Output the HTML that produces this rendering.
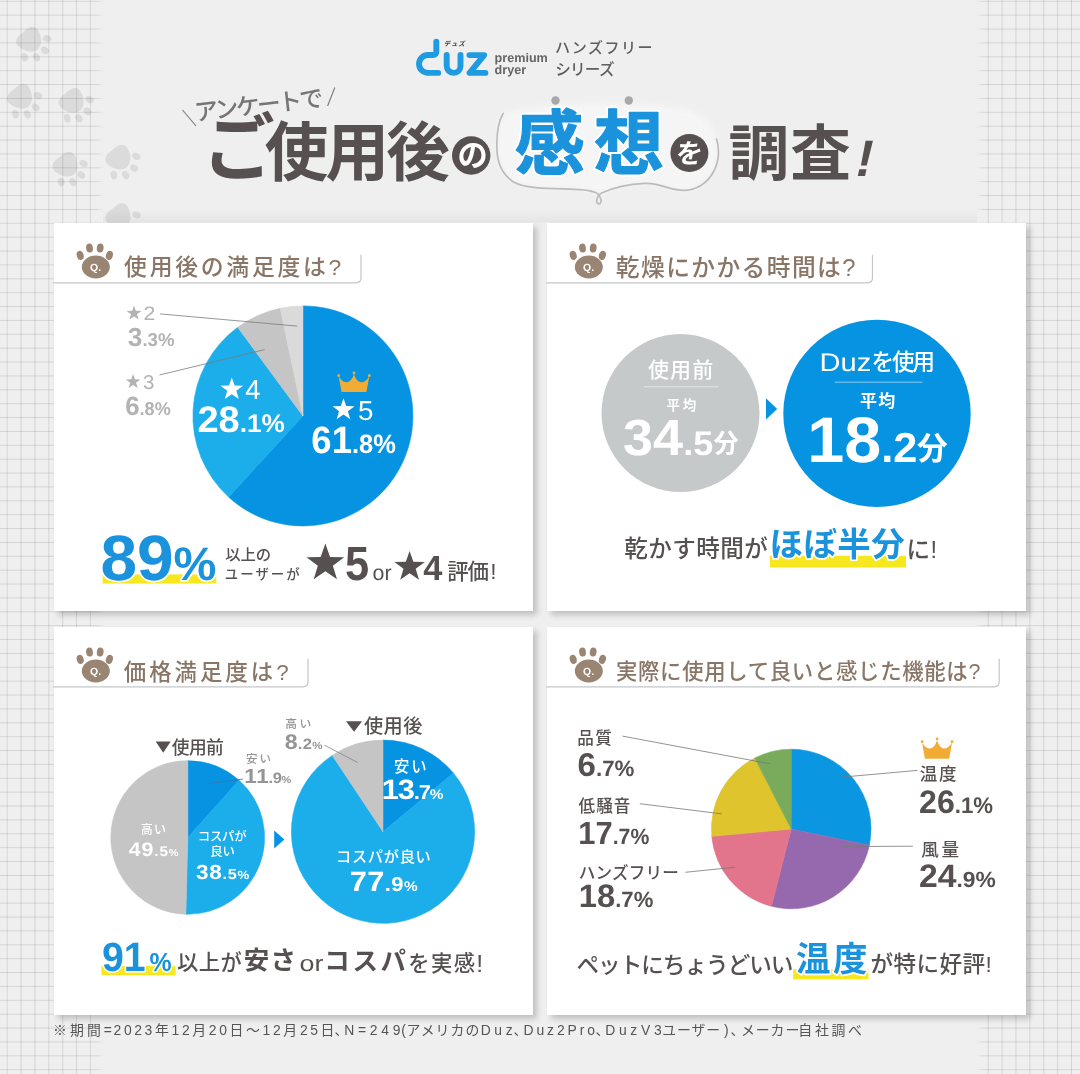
<!DOCTYPE html>
<html lang="ja"><head><meta charset="utf-8"><title>Duz アンケート ご使用後の感想を調査</title>
<style>
html,body{margin:0;padding:0;background:#efefef}
body{font-family:"Liberation Sans",sans-serif;color:#555}
#page{position:relative;width:1080px;height:1074px;overflow:hidden;background:#efefef}
#page svg{position:absolute;display:block;overflow:visible;will-change:transform}
.grid{position:absolute;top:0;height:1074px;width:104px;
 background-image:linear-gradient(rgba(0,0,0,.105) 1px,transparent 1px),linear-gradient(90deg,rgba(0,0,0,.105) 1px,transparent 1px);
 background-size:13.885px 13.885px}
.gl{left:0;background-position:6.7px .8px}
.gr{left:976px;background-position:-2.18px .8px}
.grid i{position:absolute;top:0;bottom:0;width:7px}
.gl i{right:0;background:linear-gradient(90deg,rgba(239,239,239,0),#efefef)}
.gr i{left:0;background:linear-gradient(270deg,rgba(239,239,239,0),#efefef)}
.card{position:absolute;width:479px;height:388.6px;background:#fff;box-shadow:4px 4px 6px rgba(0,0,0,.2)}
.c1{left:54px;top:222.5px}.c2{left:547px;top:222.5px}.c3{left:54px;top:626.5px}.c4{left:547px;top:626.5px}
.card svg{left:0;top:0;width:479px;height:388.6px}
header svg{left:0;top:0;width:1080px;height:222px}
footer svg{left:0;top:1015px;width:1080px;height:59px}
#paws{left:0;top:0;width:1080px;height:1074px}
.jp{font-family:"Liberation Sans","Noto Sans CJK JP",sans-serif}
</style></head>
<body>
<div id="page">
<svg id="paws" viewBox="0 0 1080 1074" aria-hidden="true"><g transform="translate(29 39.5) rotate(140.4) scale(1)" fill="#dbdbdb"><path transform="translate(-.2 -2.1)" d="M0 -11C6 -11 11 -5 12.6 2.5C14 10 8 12.4 0 11.4C-8 12.4 -14 10 -12.6 2.5C-11 -5 -6 -11 0 -11Z"/><ellipse cx="-14.6" cy="-10.9" rx="3.3" ry="4.3" transform="rotate(-28 -14.6 -10.9)"/><ellipse cx="-5.5" cy="-18.4" rx="3.3" ry="4.3" transform="rotate(-9 -5.5 -18.4)"/><ellipse cx="5.5" cy="-18.4" rx="3.3" ry="4.3" transform="rotate(9 5.5 -18.4)"/><ellipse cx="14.6" cy="-10.9" rx="3.3" ry="4.3" transform="rotate(28 14.6 -10.9)"/></g><g transform="translate(19.8 96.5) rotate(140.4) scale(1)" fill="#dbdbdb"><path transform="translate(-.2 -2.1)" d="M0 -11C6 -11 11 -5 12.6 2.5C14 10 8 12.4 0 11.4C-8 12.4 -14 10 -12.6 2.5C-11 -5 -6 -11 0 -11Z"/><ellipse cx="-14.6" cy="-10.9" rx="3.3" ry="4.3" transform="rotate(-28 -14.6 -10.9)"/><ellipse cx="-5.5" cy="-18.4" rx="3.3" ry="4.3" transform="rotate(-9 -5.5 -18.4)"/><ellipse cx="5.5" cy="-18.4" rx="3.3" ry="4.3" transform="rotate(9 5.5 -18.4)"/><ellipse cx="14.6" cy="-10.9" rx="3.3" ry="4.3" transform="rotate(28 14.6 -10.9)"/></g><g transform="translate(71.5 100.6) rotate(140.4) scale(1)" fill="#dbdbdb"><path transform="translate(-.2 -2.1)" d="M0 -11C6 -11 11 -5 12.6 2.5C14 10 8 12.4 0 11.4C-8 12.4 -14 10 -12.6 2.5C-11 -5 -6 -11 0 -11Z"/><ellipse cx="-14.6" cy="-10.9" rx="3.3" ry="4.3" transform="rotate(-28 -14.6 -10.9)"/><ellipse cx="-5.5" cy="-18.4" rx="3.3" ry="4.3" transform="rotate(-9 -5.5 -18.4)"/><ellipse cx="5.5" cy="-18.4" rx="3.3" ry="4.3" transform="rotate(9 5.5 -18.4)"/><ellipse cx="14.6" cy="-10.9" rx="3.3" ry="4.3" transform="rotate(28 14.6 -10.9)"/></g><g transform="translate(65.4 164.4) rotate(140.4) scale(1)" fill="#dbdbdb"><path transform="translate(-.2 -2.1)" d="M0 -11C6 -11 11 -5 12.6 2.5C14 10 8 12.4 0 11.4C-8 12.4 -14 10 -12.6 2.5C-11 -5 -6 -11 0 -11Z"/><ellipse cx="-14.6" cy="-10.9" rx="3.3" ry="4.3" transform="rotate(-28 -14.6 -10.9)"/><ellipse cx="-5.5" cy="-18.4" rx="3.3" ry="4.3" transform="rotate(-9 -5.5 -18.4)"/><ellipse cx="5.5" cy="-18.4" rx="3.3" ry="4.3" transform="rotate(9 5.5 -18.4)"/><ellipse cx="14.6" cy="-10.9" rx="3.3" ry="4.3" transform="rotate(28 14.6 -10.9)"/></g><g transform="translate(118.2 157.3) rotate(140.4) scale(1)" fill="#dbdbdb"><path transform="translate(-.2 -2.1)" d="M0 -11C6 -11 11 -5 12.6 2.5C14 10 8 12.4 0 11.4C-8 12.4 -14 10 -12.6 2.5C-11 -5 -6 -11 0 -11Z"/><ellipse cx="-14.6" cy="-10.9" rx="3.3" ry="4.3" transform="rotate(-28 -14.6 -10.9)"/><ellipse cx="-5.5" cy="-18.4" rx="3.3" ry="4.3" transform="rotate(-9 -5.5 -18.4)"/><ellipse cx="5.5" cy="-18.4" rx="3.3" ry="4.3" transform="rotate(9 5.5 -18.4)"/><ellipse cx="14.6" cy="-10.9" rx="3.3" ry="4.3" transform="rotate(28 14.6 -10.9)"/></g><g transform="translate(118.4 215.8) rotate(140.4) scale(1)" fill="#dbdbdb"><path transform="translate(-.2 -2.1)" d="M0 -11C6 -11 11 -5 12.6 2.5C14 10 8 12.4 0 11.4C-8 12.4 -14 10 -12.6 2.5C-11 -5 -6 -11 0 -11Z"/><ellipse cx="-14.6" cy="-10.9" rx="3.3" ry="4.3" transform="rotate(-28 -14.6 -10.9)"/><ellipse cx="-5.5" cy="-18.4" rx="3.3" ry="4.3" transform="rotate(-9 -5.5 -18.4)"/><ellipse cx="5.5" cy="-18.4" rx="3.3" ry="4.3" transform="rotate(9 5.5 -18.4)"/><ellipse cx="14.6" cy="-10.9" rx="3.3" ry="4.3" transform="rotate(28 14.6 -10.9)"/></g></svg>
<div class="grid gl"><i></i></div><div class="grid gr"><i></i></div>
<header><svg viewBox="0 0 1080 222"><linearGradient id="hb" x1="0" y1="0" x2="0" y2="1"><stop offset="0" stop-color="#000" stop-opacity="0"/><stop offset="1" stop-color="#000" stop-opacity=".04"/></linearGradient><rect x="103" y="210" width="874" height="12.5" fill="url(#hb)"/><g fill="none" stroke="#1f9ce1" stroke-width="5.9" stroke-linecap="round" stroke-linejoin="round" aria-label="duz"><path d="M436.3 41.6V51.5Q436.3 55 432.8 55H428A8.95 8.95 0 0 0 428 72.9H438.2"/><path d="M446.7 54.9V66A6.9 6.9 0 0 0 460.5 66V54.9"/><path d="M469.4 55.1H484.2L469.6 72.9H485.4"/></g><g transform="translate(454 46) skewX(-10) translate(-454 -46)"><text class="jp" x="443.94" y="45.66" font-size="6.38" font-weight="700" letter-spacing="0.93" fill="#444">デュズ</text></g><g transform="translate(494.6 61.8)" font-family="Liberation Sans, sans-serif" style="font-kerning:none;text-rendering:geometricPrecision"  fill="#666" aria-label="premium"><text x="0" font-size="12.6" font-weight="700">premium</text></g><g transform="translate(494.6 74.4)" font-family="Liberation Sans, sans-serif" style="font-kerning:none;text-rendering:geometricPrecision"  fill="#666" aria-label="dryer"><text x="0" font-size="12.6" font-weight="700">dryer</text></g><text class="jp" x="555.12" y="53.05" font-size="15.03" font-weight="500" letter-spacing="1.52" fill="#5e5e5e">ハンズフリー</text><text class="jp" x="555.27" y="74.93" font-size="15.59" font-weight="500" letter-spacing="-0.78" fill="#5e5e5e">シリーズ</text><g transform="rotate(-6.6 260 105)"><text class="jp" x="194.12" y="113.38" font-size="23.84" font-weight="500" letter-spacing="-2.5" fill="#757575">アンケートで</text></g><line x1="182.5" y1="110" x2="196" y2="126" stroke="#7a7a7a" stroke-width="1.1"/><line x1="334.8" y1="87.5" x2="327.6" y2="106" stroke="#7a7a7a" stroke-width="1.1"/><filter id="bl" x="-10%" y="-20%" width="120%" height="140%"><feGaussianBlur stdDeviation="3.2"/></filter><path d="M503.1 113.5C498.5 121 496.6 134 496.8 148C497 162 501.5 174 513.5 182C524 188.2 545 188.6 563 188.8C578 189 589 189.4 595.5 192.6C601.5 195.6 602.6 203.6 598.9 203.8C595.2 204 596 195.8 602.2 192.8C610 189 622 184.4 645.4 183.3C660 182.8 664 188.6 680 190.2C696 191.6 708 183 714.5 170C719 160 719.6 149 716.5 139C713 124 703 112 682 108C640 101 540 100 503.1 113.5Z" fill="#f5f5f5" filter="url(#bl)"/><path d="M503.1 113.5C498.5 121 496.6 134 496.8 148C497 162 501.5 174 513.5 182C524 188.2 545 188.6 563 188.8C578 189 589 189.4 595.5 192.6C601.5 195.6 602.6 203.6 598.9 203.8C595.2 204 596 195.8 602.2 192.8C610 189 622 184.4 645.4 183.3C660 182.8 664 188.6 680 190.2C696 191.6 708 183 714.5 170C719 160 719.6 149 716.5 139" fill="none" stroke="#bcbcbc" stroke-width="1.7" stroke-linecap="round"/><circle cx="555.5" cy="100.5" r="4.2" fill="#a8a8a8"/><circle cx="628.8" cy="100.5" r="4.2" fill="#a8a8a8"/><text class="jp" x="202.62" y="173.96" font-size="72.34" font-weight="700" fill="#565050">ご</text><text class="jp" x="264.86" y="174.64" font-size="63.6" font-weight="700" letter-spacing="-2.86" fill="#565050">使用後</text><circle cx="471.2" cy="155.5" r="19.2" fill="#565050"/><text class="jp" x="457.4" y="166.34" font-size="30.26" font-weight="700" fill="#fff">の</text><text class="jp" x="514.73" y="169.15" font-size="70" font-weight="700" letter-spacing="9.1" fill="none" stroke="#fff" stroke-width="4.97" stroke-linejoin="round" aria-hidden="true">感想</text><text class="jp" x="514.73" y="169.15" font-size="70" font-weight="700" letter-spacing="9.1" fill="#1a93dc" stroke="#1a93dc" stroke-width="1.19" stroke-linejoin="round">感想</text><circle cx="689.4" cy="153" r="19" fill="#565050"/><g transform="translate(689 153) skewX(-8) translate(-689 -153)"><text class="jp" x="676.18" y="163.34" font-size="26.76" font-weight="700" fill="#fff">を</text></g><text class="jp" x="728.57" y="174.93" font-size="60.67" font-weight="700" letter-spacing="1.03" fill="#565050">調査</text><g transform="translate(861 176) skewX(-12.5) translate(-861 -176)"><text class="jp" x="852.86" y="175.8" font-size="51.1" font-weight="700" fill="#565050">!</text></g></svg></header>
<section class="card c1" aria-label="使用後の満足度は?"><svg viewBox="54 222.5 479 388.6"><g fill="#9a8472"><ellipse cx="95.8" cy="266.5" rx="14" ry="11.4"/><ellipse cx="80.2" cy="254.9" rx="3.4" ry="4.6" transform="rotate(-18 80.2 254.9)"/><ellipse cx="89.5" cy="247.5" rx="3.4" ry="4.6" transform="rotate(-6 89.5 247.5)"/><ellipse cx="100.2" cy="247.5" rx="3.4" ry="4.6" transform="rotate(6 100.2 247.5)"/><ellipse cx="109.4" cy="254.9" rx="3.4" ry="4.6" transform="rotate(18 109.4 254.9)"/></g><g transform="translate(95.5 270.1)" font-family="Liberation Sans, sans-serif" style="font-kerning:none;text-rendering:geometricPrecision"  fill="#fff" aria-label="Q."><text x="-5.54" font-size="10.5" font-weight="700">Q.</text></g><text class="jp" x="124.08" y="274.55" font-size="22.84" font-weight="500" letter-spacing="2.74" fill="#8a7666">使用後の満足度は?</text><path d="M53 282.3H356Q361 282.3 361 277.3V254.3" fill="none" stroke="#c4c6c9" stroke-width="1.2"/><path d="M302.9 415.4L302.9 305.4A110 110 0 1 1 228.61 496.53Z" fill="#0693e2" stroke="#0693e2" stroke-width=".6" stroke-linejoin="round"/><path d="M302.9 415.4L228.61 496.53A110 110 0 0 1 237.69 326.82Z" fill="#1cadeb" stroke="#1cadeb" stroke-width=".6" stroke-linejoin="round"/><path d="M302.9 415.4L237.69 326.82A110 110 0 0 1 280.26 307.76Z" fill="#c5c5c5" stroke="#c5c5c5" stroke-width=".6" stroke-linejoin="round"/><path d="M302.9 415.4L280.26 307.76A110 110 0 0 1 302.9 305.4Z" fill="#dadada" stroke="#dadada" stroke-width=".6" stroke-linejoin="round"/><polygon points="134,305 135.83,310.28 141.42,310.39 136.97,313.76 138.58,319.11 134,315.92 129.42,319.11 131.03,313.76 126.58,310.39 132.17,310.28" fill="#b3b3b3"/><g transform="translate(143.53 319.3) scale(1.092 1)" font-family="Liberation Sans, sans-serif" style="font-kerning:none;text-rendering:geometricPrecision"  fill="#b3b3b3" aria-label="2"><text x="0" font-size="19.5" font-weight="400">2</text></g><g transform="translate(127.8 345.4) scale(1.01 1)" font-family="Liberation Sans, sans-serif" style="font-kerning:none;text-rendering:geometricPrecision"  fill="#b3b3b3" aria-label="3.3%"><text x="0" font-size="26" font-weight="700">3</text><text x="14.46" font-size="18.5" font-weight="700">.3%</text></g><polygon points="133.1,373.6 134.91,378.81 140.42,378.92 136.03,382.25 137.63,387.53 133.1,384.38 128.57,387.53 130.17,382.25 125.78,378.92 131.29,378.81" fill="#b3b3b3"/><g transform="translate(142.92 388.2) scale(1.023 1)" font-family="Liberation Sans, sans-serif" style="font-kerning:none;text-rendering:geometricPrecision"  fill="#b3b3b3" aria-label="3"><text x="0" font-size="20" font-weight="400">3</text></g><g transform="translate(125.25 414.7) scale(0.974 1)" font-family="Liberation Sans, sans-serif" style="font-kerning:none;text-rendering:geometricPrecision"  fill="#b3b3b3" aria-label="6.8%"><text x="0" font-size="26.5" font-weight="700">6</text><text x="14.74" font-size="18.5" font-weight="700">.8%</text></g><line x1="160.1" y1="313.4" x2="297.2" y2="325.6" stroke="#7c7c7c" stroke-width="0.8"/><line x1="159.5" y1="374.5" x2="264.6" y2="349.1" stroke="#7c7c7c" stroke-width="0.8"/><polygon points="231.8,377 234.6,385.05 243.12,385.22 236.33,390.37 238.79,398.53 231.8,393.66 224.81,398.53 227.27,390.37 220.48,385.22 229,385.05" fill="#fff"/><g transform="translate(245.37 398.5) scale(0.996 1)" font-family="Liberation Sans, sans-serif" style="font-kerning:none;text-rendering:geometricPrecision"  fill="#fff" aria-label="4"><text x="0" font-size="27.5" font-weight="400">4</text></g><g transform="translate(197.38 431.6) scale(1.028 1)" font-family="Liberation Sans, sans-serif" style="font-kerning:none;text-rendering:geometricPrecision"  fill="#fff" aria-label="28.1%"><text x="0" font-size="37" font-weight="700">28</text><text x="41.16" font-size="25.5" font-weight="700">.</text><text x="48.24" font-size="25.5" font-weight="700">1</text><text x="62.42" font-size="25.5" font-weight="700">%</text></g><path d="M341.57 391.5L338.71 376C341.23 380.08 343.92 381.71 346.94 381.71C349.97 381.71 352.66 378.04 354 373.55C355.34 378.04 358.03 381.71 361.06 381.71C364.08 381.71 366.77 380.08 369.29 376L366.43 391.5Z" fill="#f1ac36"/><circle cx="338.71" cy="375.18" r="1.44" fill="#f1ac36"/><circle cx="354" cy="372.53" r="1.44" fill="#f1ac36"/><circle cx="369.29" cy="375.18" r="1.44" fill="#f1ac36"/><polygon points="343.5,397.7 346.23,405.55 354.53,405.72 347.91,410.73 350.32,418.68 343.5,413.94 336.68,418.68 339.09,410.73 332.47,405.72 340.77,405.55" fill="#fff"/><g transform="translate(357.99 419.4) scale(1.012 1)" font-family="Liberation Sans, sans-serif" style="font-kerning:none;text-rendering:geometricPrecision"  fill="#fff" aria-label="5"><text x="0" font-size="27.5" font-weight="400">5</text></g><g transform="translate(311.36 453) scale(0.961 1)" font-family="Liberation Sans, sans-serif" style="font-kerning:none;text-rendering:geometricPrecision"  fill="#fff" aria-label="61.8%"><text x="0" font-size="38" font-weight="700">6</text><text x="21.13" font-size="38" font-weight="700">1</text><text x="42.27" font-size="26.5" font-weight="700">.8%</text></g><rect x="102.6" y="573.9" width="113.7" height="9.1" fill="#f6e71f"/><g transform="translate(100.51 580) scale(1.027 1)" font-family="Liberation Sans, sans-serif" style="font-kerning:none;text-rendering:geometricPrecision"  fill="none" stroke="#fff" stroke-width="3.5" stroke-linejoin="round" aria-hidden="true"><text x="0" font-size="64" font-weight="700">89</text><text x="71.19" font-size="47" font-weight="700">%</text></g><g transform="translate(100.51 580) scale(1.027 1)" font-family="Liberation Sans, sans-serif" style="font-kerning:none;text-rendering:geometricPrecision"  fill="#1a93dc" aria-label="89%"><text x="0" font-size="64" font-weight="700">89</text><text x="71.19" font-size="47" font-weight="700">%</text></g><text class="jp" x="225.18" y="559.16" font-size="15.33" font-weight="500" fill="#555151">以上の</text><text class="jp" x="224.71" y="578.26" font-size="13.41" font-weight="500" letter-spacing="2.08" fill="#555151">ユーザーが</text><polygon points="325.35,543 330.01,556.39 344.18,556.68 332.88,565.25 336.99,578.82 325.35,570.72 313.71,578.82 317.82,565.25 306.52,556.68 320.69,556.39" fill="#565050"/><g transform="translate(344.96 579.9) scale(0.904 1)" font-family="Liberation Sans, sans-serif" style="font-kerning:none;text-rendering:geometricPrecision"  fill="#565050" aria-label="5"><text x="0" font-size="48" font-weight="700">5</text></g><g transform="translate(372.5 579.9) scale(0.997 1)" font-family="Liberation Sans, sans-serif" style="font-kerning:none;text-rendering:geometricPrecision"  fill="#555151" aria-label="or"><text x="0" font-size="21.5" font-weight="400">or</text></g><polygon points="409.6,550.4 413.36,561.22 424.82,561.46 415.69,568.38 419,579.34 409.6,572.8 400.2,579.34 403.51,568.38 394.38,561.46 405.84,561.22" fill="#565050"/><g transform="translate(423.18 579.9) scale(0.981 1)" font-family="Liberation Sans, sans-serif" style="font-kerning:none;text-rendering:geometricPrecision"  fill="#565050" aria-label="4"><text x="0" font-size="35" font-weight="700">4</text></g><text class="jp" x="447.23" y="578.46" font-size="21.45" font-weight="500" letter-spacing="-1.18" fill="#555151">評価</text><text class="jp" x="490.38" y="578.8" font-size="22.6" font-weight="500" fill="#555151">!</text></svg></section>
<section class="card c2" aria-label="乾燥にかかる時間は?"><svg viewBox="547 222.5 479 388.6"><g fill="#9a8472"><ellipse cx="588.8" cy="266.5" rx="14" ry="11.4"/><ellipse cx="573.2" cy="254.9" rx="3.4" ry="4.6" transform="rotate(-18 573.2 254.9)"/><ellipse cx="582.5" cy="247.5" rx="3.4" ry="4.6" transform="rotate(-6 582.5 247.5)"/><ellipse cx="593.2" cy="247.5" rx="3.4" ry="4.6" transform="rotate(6 593.2 247.5)"/><ellipse cx="602.4" cy="254.9" rx="3.4" ry="4.6" transform="rotate(18 602.4 254.9)"/></g><g transform="translate(588.5 270.1)" font-family="Liberation Sans, sans-serif" style="font-kerning:none;text-rendering:geometricPrecision"  fill="#fff" aria-label="Q."><text x="-5.54" font-size="10.5" font-weight="700">Q.</text></g><text class="jp" x="615.87" y="275.24" font-size="23.76" font-weight="500" letter-spacing="1.4" fill="#8a7666">乾燥にかかる時間は?</text><path d="M546 282.3H867.5Q872.5 282.3 872.5 277.3V254.3" fill="none" stroke="#c4c6c9" stroke-width="1.2"/><circle cx="680.5" cy="412.6" r="79" fill="#c6c9c9"/><text class="jp" x="648.03" y="376.35" font-size="21" font-weight="500" letter-spacing="1.11" fill="#fff">使用前</text><line x1="643.7" y1="386.3" x2="718.7" y2="386.3" stroke="#e3e5e5" stroke-width="1"/><text class="jp" x="666.39" y="409.34" font-size="13.5" font-weight="700" letter-spacing="2.77" fill="#fff">平均</text><g transform="translate(623.06 454.3) scale(1.059 1)" font-family="Liberation Sans, sans-serif" style="font-kerning:none;text-rendering:geometricPrecision"  fill="#fff" aria-label="34.5"><text x="0" font-size="51" font-weight="700">34</text><text x="56.73" font-size="34" font-weight="700">.5</text></g><text class="jp" x="713.88" y="451.88" font-size="24.92" font-weight="700" fill="#fff">分</text><path d="M766 397.8V419L777.2 408.4Z" fill="#0693e2"/><circle cx="877" cy="412.9" r="93.7" fill="#0693e2"/><g transform="translate(819.51 370.5) scale(1.141 1)" font-family="Liberation Sans, sans-serif" style="font-kerning:none;text-rendering:geometricPrecision"  fill="#fff" aria-label="Duz"><text x="0" font-size="25.5" font-weight="400">Duz</text></g><text class="jp" x="871.6" y="369.01" font-size="22.5" font-weight="500" letter-spacing="-2" fill="#fff">を使用</text><line x1="834.8" y1="381.7" x2="922.4" y2="381.7" stroke="#8ecbf0" stroke-width="1"/><text class="jp" x="859.95" y="406.82" font-size="17" font-weight="700" letter-spacing="1.45" fill="#fff">平均</text><g transform="translate(807.25 461.2) scale(1.032 1)" font-family="Liberation Sans, sans-serif" style="font-kerning:none;text-rendering:geometricPrecision"  fill="#fff" aria-label="18.2"><text x="0" font-size="64.5" font-weight="700">1</text><text x="35.87" font-size="64.5" font-weight="700">8</text><text x="71.74" font-size="42" font-weight="700">.2</text></g><text class="jp" x="917.05" y="458.82" font-size="30.73" font-weight="700" fill="#fff">分</text><text class="jp" x="624.2" y="556.86" font-size="23.6" font-weight="500" letter-spacing="0.42" fill="#555151">乾かす時間が</text><rect x="770" y="555.3" width="136" height="11.7" fill="#f6e71f"/><text class="jp" x="769.49" y="555.88" font-size="33.5" font-weight="700" letter-spacing="0.44" fill="none" stroke="#fff" stroke-width="3.48" stroke-linejoin="round" aria-hidden="true">ほぼ半分</text><text class="jp" x="769.49" y="555.88" font-size="33.5" font-weight="700" letter-spacing="0.44" fill="#1a93dc">ほぼ半分</text><text class="jp" x="906.53" y="557.83" font-size="23.6" font-weight="500" letter-spacing="0.42" fill="#555151">に!</text></svg></section>
<section class="card c3" aria-label="価格満足度は?"><svg viewBox="54 626.5 479 388.6"><g fill="#9a8472"><ellipse cx="95.8" cy="670.5" rx="14" ry="11.4"/><ellipse cx="80.2" cy="658.9" rx="3.4" ry="4.6" transform="rotate(-18 80.2 658.9)"/><ellipse cx="89.5" cy="651.5" rx="3.4" ry="4.6" transform="rotate(-6 89.5 651.5)"/><ellipse cx="100.2" cy="651.5" rx="3.4" ry="4.6" transform="rotate(6 100.2 651.5)"/><ellipse cx="109.4" cy="658.9" rx="3.4" ry="4.6" transform="rotate(18 109.4 658.9)"/></g><g transform="translate(95.5 674.1)" font-family="Liberation Sans, sans-serif" style="font-kerning:none;text-rendering:geometricPrecision"  fill="#fff" aria-label="Q."><text x="-5.54" font-size="10.5" font-weight="700">Q.</text></g><text class="jp" x="123.72" y="679.39" font-size="22.41" font-weight="500" letter-spacing="3.03" fill="#8a7666">価格満足度は?</text><path d="M53 686.3H303Q308 686.3 308 681.3V658.3" fill="none" stroke="#c4c6c9" stroke-width="1.2"/><path d="M155.7 741H170.7L163.2 752.3Z" fill="#565050"/><text class="jp" x="171.83" y="753.72" font-size="17.75" font-weight="500" letter-spacing="-0.59" fill="#565050">使用前</text><path d="M187.8 837L187.8 760.2A76.8 76.8 0 0 1 239.09 779.84Z" fill="#0693e2" stroke="#0693e2" stroke-width=".6" stroke-linejoin="round"/><path d="M187.8 837L239.09 779.84A76.8 76.8 0 0 1 185.87 913.78Z" fill="#1cadeb" stroke="#1cadeb" stroke-width=".6" stroke-linejoin="round"/><path d="M187.8 837L185.87 913.78A76.8 76.8 0 0 1 187.8 760.2Z" fill="#c5c5c5" stroke="#c5c5c5" stroke-width=".6" stroke-linejoin="round"/><text class="jp" x="245.91" y="762.33" font-size="11.5" font-weight="500" letter-spacing="2.14" fill="#949494">安い</text><g transform="translate(244.16 782.6) scale(1.1 1)" font-family="Liberation Sans, sans-serif" style="font-kerning:none;text-rendering:geometricPrecision"  fill="#949494" aria-label="11.9%"><text x="0" font-size="20.5" font-weight="700">1</text><text x="11.08" font-size="20.5" font-weight="700">1</text><text x="22.17" font-size="15" font-weight="700" letter-spacing="-0.32">.9</text><text x="34.05" font-size="10" font-weight="700" letter-spacing="-0.32">%</text></g><text class="jp" x="140.74" y="833.46" font-size="12" font-weight="500" letter-spacing="1.39" fill="#fff">高い</text><g transform="translate(128.78 855.2) scale(1.1 1)" font-family="Liberation Sans, sans-serif" style="font-kerning:none;text-rendering:geometricPrecision"  fill="#fff" aria-label="49.5%"><text x="0" font-size="19.5" font-weight="700" letter-spacing="0.76">49</text><text x="23.2" font-size="14" font-weight="700" letter-spacing="0.76">.5</text><text x="36.39" font-size="10" font-weight="700" letter-spacing="0.76">%</text></g><text class="jp" x="197.8" y="840.16" font-size="12.4" font-weight="500" letter-spacing="-0.25" fill="#fff">コスパが</text><text class="jp" x="210.3" y="855.58" font-size="12.4" font-weight="500" letter-spacing="-0.25" fill="#fff">良い</text><g transform="translate(195.98 878.5) scale(1.1 1)" font-family="Liberation Sans, sans-serif" style="font-kerning:none;text-rendering:geometricPrecision"  fill="#fff" aria-label="38.5%"><text x="0" font-size="20.5" font-weight="700" letter-spacing="0.7">38</text><text x="24.19" font-size="14.7" font-weight="700" letter-spacing="0.7">.5</text><text x="37.84" font-size="12" font-weight="700" letter-spacing="0.7">%</text></g><path d="M274.2 830.1V848L284.4 839.05Z" fill="#0693e2"/><text class="jp" x="285.33" y="727.12" font-size="11.8" font-weight="500" letter-spacing="2.34" fill="#949494">高い</text><g transform="translate(284.77 748.3) scale(1.1 1)" font-family="Liberation Sans, sans-serif" style="font-kerning:none;text-rendering:geometricPrecision"  fill="#949494" aria-label="8.2%"><text x="0" font-size="21" font-weight="700" letter-spacing="0.23">8</text><text x="11.91" font-size="15" font-weight="700" letter-spacing="0.23">.2</text><text x="24.88" font-size="10.5" font-weight="700" letter-spacing="0.23">%</text></g><path d="M346 720.8H362.1L354.05 731.2Z" fill="#565050"/><text class="jp" x="364.01" y="732.89" font-size="19.2" font-weight="500" letter-spacing="0.42" fill="#565050">使用後</text><path d="M383 831.2L383 739.6A91.6 91.6 0 0 1 453.37 772.57Z" fill="#0693e2" stroke="#0693e2" stroke-width=".6" stroke-linejoin="round"/><path d="M383 831.2L453.37 772.57A91.6 91.6 0 1 1 332.31 754.9Z" fill="#1cadeb" stroke="#1cadeb" stroke-width=".6" stroke-linejoin="round"/><path d="M383 831.2L332.31 754.9A91.6 91.6 0 0 1 383 739.6Z" fill="#c5c5c5" stroke="#c5c5c5" stroke-width=".6" stroke-linejoin="round"/><line x1="208.6" y1="783" x2="243" y2="778.6" stroke="#2f78ad" stroke-width="0.8"/><line x1="324.4" y1="744.6" x2="357.8" y2="762.1" stroke="#858585" stroke-width="0.8"/><text class="jp" x="394.01" y="771.06" font-size="15.4" font-weight="500" letter-spacing="1.83" fill="#fff">安い</text><g transform="translate(381.69 798.2) scale(1.1 1)" font-family="Liberation Sans, sans-serif" style="font-kerning:none;text-rendering:geometricPrecision"  fill="#fff" aria-label="13.7%"><text x="0" font-size="28" font-weight="700">1</text><text x="14.55" font-size="28" font-weight="700" letter-spacing="-1.02">3</text><text x="29.1" font-size="20" font-weight="700" letter-spacing="-1.02">.7</text><text x="43.74" font-size="14" font-weight="700" letter-spacing="-1.02">%</text></g><text class="jp" x="336.1" y="861.75" font-size="15.2" font-weight="500" letter-spacing="0.7" fill="#fff">コスパが良い</text><g transform="translate(349.68 890.4) scale(1.1 1)" font-family="Liberation Sans, sans-serif" style="font-kerning:none;text-rendering:geometricPrecision"  fill="#fff" aria-label="77.9%"><text x="0" font-size="28" font-weight="700" letter-spacing="0.39">77</text><text x="31.93" font-size="20" font-weight="700" letter-spacing="0.39">.9</text><text x="49.4" font-size="14" font-weight="700" letter-spacing="0.39">%</text></g><rect x="101.5" y="965.6" width="74.1" height="9.2" fill="#f6e71f"/><g transform="translate(101.94 970.2) scale(0.957 1)" font-family="Liberation Sans, sans-serif" style="font-kerning:none;text-rendering:geometricPrecision"  fill="none" stroke="#fff" stroke-width="3" stroke-linejoin="round" aria-hidden="true"><text x="0" font-size="41" font-weight="700">9</text><text x="22.8" font-size="41" font-weight="700">1</text><text x="49.78" font-size="26" font-weight="700">%</text></g><g transform="translate(101.94 970.2) scale(0.957 1)" font-family="Liberation Sans, sans-serif" style="font-kerning:none;text-rendering:geometricPrecision"  fill="#1a93dc" aria-label="91%"><text x="0" font-size="41" font-weight="700">9</text><text x="22.8" font-size="41" font-weight="700">1</text><text x="49.78" font-size="26" font-weight="700">%</text></g><text class="jp" x="176.93" y="969.12" font-size="21.3" font-weight="500" letter-spacing="0.45" fill="#555151">以上が</text><text class="jp" x="243.75" y="968.78" font-size="25.5" font-weight="700" letter-spacing="1.38" fill="#565050">安さ</text><g transform="translate(299.47 971) scale(1.193 1)" font-family="Liberation Sans, sans-serif" style="font-kerning:none;text-rendering:geometricPrecision"  fill="#555151" aria-label="or"><text x="0" font-size="22.5" font-weight="400">or</text></g><text class="jp" x="324.38" y="969.39" font-size="25.5" font-weight="700" letter-spacing="2.63" fill="#565050">コスパ</text><text class="jp" x="408.19" y="970.08" font-size="21.3" font-weight="500" letter-spacing="1.47" fill="#555151">を実感</text><text class="jp" x="476.17" y="971.6" font-size="24.79" font-weight="500" fill="#555151">!</text></svg></section>
<section class="card c4" aria-label="実際に使用して良いと感じた機能は?"><svg viewBox="547 626.5 479 388.6"><g fill="#9a8472"><ellipse cx="588.8" cy="670.5" rx="14" ry="11.4"/><ellipse cx="573.2" cy="658.9" rx="3.4" ry="4.6" transform="rotate(-18 573.2 658.9)"/><ellipse cx="582.5" cy="651.5" rx="3.4" ry="4.6" transform="rotate(-6 582.5 651.5)"/><ellipse cx="593.2" cy="651.5" rx="3.4" ry="4.6" transform="rotate(6 593.2 651.5)"/><ellipse cx="602.4" cy="658.9" rx="3.4" ry="4.6" transform="rotate(18 602.4 658.9)"/></g><g transform="translate(588.5 674.1)" font-family="Liberation Sans, sans-serif" style="font-kerning:none;text-rendering:geometricPrecision"  fill="#fff" aria-label="Q."><text x="-5.54" font-size="10.5" font-weight="700">Q.</text></g><text class="jp" x="615.94" y="678.03" font-size="21.37" font-weight="500" letter-spacing="0.71" fill="#8a7666">実際に使用して良いと感じた機能は?</text><path d="M546 686.3H994.2Q999.2 686.3 999.2 681.3V658.3" fill="none" stroke="#c4c6c9" stroke-width="1.2"/><path d="M791.2 828.5L791.2 748.7A79.8 79.8 0 0 1 869.34 844.68Z" fill="#0a96e0" stroke="#0a96e0" stroke-width=".6" stroke-linejoin="round"/><path d="M791.2 828.5L869.34 844.68A79.8 79.8 0 0 1 771.49 905.83Z" fill="#9669ae" stroke="#9669ae" stroke-width=".6" stroke-linejoin="round"/><path d="M791.2 828.5L771.49 905.83A79.8 79.8 0 0 1 711.74 835.87Z" fill="#e2748b" stroke="#e2748b" stroke-width=".6" stroke-linejoin="round"/><path d="M791.2 828.5L711.74 835.87A79.8 79.8 0 0 1 754.72 757.52Z" fill="#dfc42e" stroke="#dfc42e" stroke-width=".6" stroke-linejoin="round"/><path d="M791.2 828.5L754.72 757.52A79.8 79.8 0 0 1 791.2 748.7Z" fill="#7aab5c" stroke="#7aab5c" stroke-width=".6" stroke-linejoin="round"/><line x1="622.5" y1="735.6" x2="770" y2="763.3" stroke="#777" stroke-width="0.8"/><line x1="639.9" y1="803.2" x2="721.8" y2="813.4" stroke="#777" stroke-width="0.8"/><line x1="685.4" y1="871.8" x2="735.1" y2="866.7" stroke="#777" stroke-width="0.8"/><line x1="840.2" y1="776.8" x2="917.5" y2="769.9" stroke="#777" stroke-width="0.8"/><line x1="842.1" y1="846.1" x2="912.9" y2="845.7" stroke="#777" stroke-width="0.8"/><text class="jp" x="577.15" y="743.61" font-size="16.6" font-weight="500" letter-spacing="1.64" fill="#565050">品質</text><g transform="translate(577.59 775.2) scale(1 1)" font-family="Liberation Sans, sans-serif" style="font-kerning:none;text-rendering:geometricPrecision"  fill="#565050" aria-label="6.7%"><text x="0" font-size="33" font-weight="700">6</text><text x="18.35" font-size="22.3" font-weight="700">.7%</text></g><text class="jp" x="578.6" y="811.54" font-size="16.6" font-weight="500" letter-spacing="1" fill="#565050">低騒音</text><g transform="translate(578.29 843.2) scale(0.966 1)" font-family="Liberation Sans, sans-serif" style="font-kerning:none;text-rendering:geometricPrecision"  fill="#565050" aria-label="17.7%"><text x="0" font-size="32" font-weight="700">1</text><text x="17.8" font-size="32" font-weight="700">7</text><text x="35.59" font-size="22" font-weight="700">.7%</text></g><text class="jp" x="578.65" y="878.19" font-size="16.6" font-weight="500" letter-spacing="0.22" fill="#565050">ハンズフリー</text><g transform="translate(578.86 906.6) scale(1.006 1)" font-family="Liberation Sans, sans-serif" style="font-kerning:none;text-rendering:geometricPrecision"  fill="#565050" aria-label="18.7%"><text x="0" font-size="32.5" font-weight="700">1</text><text x="18.07" font-size="32.5" font-weight="700">8</text><text x="36.15" font-size="22" font-weight="700">.7%</text></g><path d="M924.88 758.2L922.08 742.01C924.55 746.27 927.18 747.98 930.14 747.98C933.1 747.98 935.73 744.14 937.05 739.46C938.37 744.14 941 747.98 943.96 747.98C946.92 747.98 949.55 746.27 952.02 742.01L949.22 758.2Z" fill="#f1ac36"/><circle cx="922.08" cy="741.16" r="1.41" fill="#f1ac36"/><circle cx="937.05" cy="738.39" r="1.41" fill="#f1ac36"/><circle cx="952.02" cy="741.16" r="1.41" fill="#f1ac36"/><text class="jp" x="919.76" y="779.39" font-size="17.6" font-weight="500" letter-spacing="1.74" fill="#565050">温度</text><g transform="translate(919.09 812.9) scale(0.986 1)" font-family="Liberation Sans, sans-serif" style="font-kerning:none;text-rendering:geometricPrecision"  fill="#565050" aria-label="26.1%"><text x="0" font-size="32.5" font-weight="700">26</text><text x="36.15" font-size="22.5" font-weight="700">.</text><text x="42.4" font-size="22.5" font-weight="700">1</text><text x="54.91" font-size="22.5" font-weight="700">%</text></g><text class="jp" x="921.14" y="855.73" font-size="17.6" font-weight="500" letter-spacing="2.76" fill="#565050">風量</text><g transform="translate(919.03 886.1) scale(1.037 1)" font-family="Liberation Sans, sans-serif" style="font-kerning:none;text-rendering:geometricPrecision"  fill="#565050" aria-label="24.9%"><text x="0" font-size="32.5" font-weight="700">24</text><text x="36.15" font-size="22" font-weight="700">.9%</text></g><text class="jp" x="576.52" y="972.42" font-size="22.6" font-weight="500" letter-spacing="-0.99" fill="#555151">ペットにちょうどいい</text><rect x="793.2" y="968.7" width="75.3" height="10.2" fill="#f6e71f"/><text class="jp" x="795.92" y="970.41" font-size="34.5" font-weight="700" letter-spacing="2.69" fill="none" stroke="#fff" stroke-width="3.48" stroke-linejoin="round" aria-hidden="true">温度</text><text class="jp" x="795.92" y="970.41" font-size="34.5" font-weight="700" letter-spacing="2.69" fill="#1a93dc">温度</text><text class="jp" x="870.41" y="971.63" font-size="22.6" font-weight="500" letter-spacing="0.43" fill="#555151">が特に好評!</text></svg></section>
<footer><svg viewBox="0 1015 1080 59"><g class="jp" font-size="13.9" fill="#555" aria-label="※期間=2023年12月20日〜12月25日、N=249(アメリカのDuz、Duz2Pro、DuzV3ユーザー)、メーカー自社調べ"><text x="52.99" y="1034.6" textLength="59" lengthAdjust="spacing">※期間=</text><text x="113.52" y="1034.6" textLength="221" lengthAdjust="spacing">2023年12月20日〜12月25日</text><text x="334.6" y="1034.6">、</text><text x="344.36" y="1034.6" textLength="56" lengthAdjust="spacing">N=249</text><text x="401.17" y="1034.6">(</text><text x="406.41" y="1034.6" letter-spacing="1.04">アメリカの</text><text x="480.66" y="1034.6" textLength="32" lengthAdjust="spacing">Duz</text><text x="513.6" y="1034.6">、</text><text x="523.46" y="1034.6" textLength="71.5" lengthAdjust="spacing">Duz2Pro</text><text x="595.6" y="1034.6">、</text><text x="605.16" y="1034.6" textLength="56.5" lengthAdjust="spacing">DuzV3</text><text x="662.24" y="1034.6" letter-spacing="0.88">ユーザー</text><text x="723.91" y="1034.6">)</text><text x="730.6" y="1034.6">、</text><text x="740.89" y="1034.6" letter-spacing="0.96">メーカー</text><text x="798.35" y="1034.6" letter-spacing="2.68">自社調べ</text></g></svg></footer>
</div>
</body></html>
